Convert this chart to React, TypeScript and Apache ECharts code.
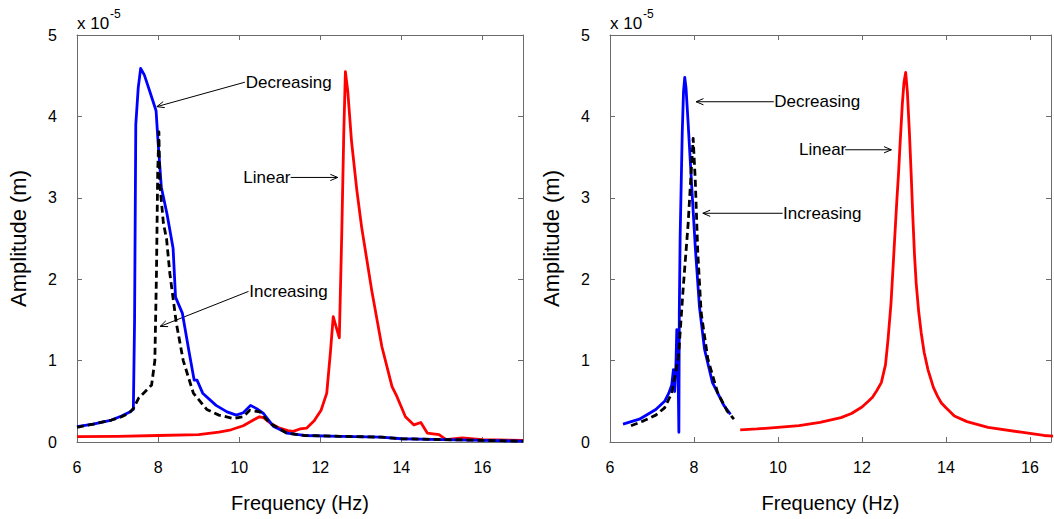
import React, { useEffect, useRef } from "react";
import * as echarts from "echarts";

const FONT = '"Liberation Sans", Arial, Helvetica, sans-serif';

// ---------- data (frequency Hz, amplitude x 1e-5 m) ----------
const yTicks = [0, 1, 2, 3, 4, 5];
const xTickLabels = ["6", "8", "10", "12", "14", "16"];

const leftDecreasing: [number, number][] = [
  [6.0, 0.19], [6.4, 0.22], [6.85, 0.27], [7.1, 0.32], [7.3, 0.37], [7.39, 0.4],
  [7.42, 1.5], [7.45, 3.9], [7.51, 4.35], [7.57, 4.59], [7.66, 4.51], [7.8, 4.3],
  [7.95, 4.07], [8.0, 3.68], [8.08, 3.13], [8.22, 2.8], [8.37, 2.38], [8.43, 1.78],
  [8.6, 1.58], [8.77, 1.09], [8.89, 0.76], [8.96, 0.76], [9.1, 0.6], [9.43, 0.45],
  [9.7, 0.37], [9.93, 0.33], [10.1, 0.36], [10.28, 0.45], [10.43, 0.41], [10.6, 0.35],
  [10.85, 0.19], [11.18, 0.11], [11.6, 0.08], [12.5, 0.07], [13.5, 0.06], [14.0, 0.04],
  [15.0, 0.03], [16.0, 0.02], [17.0, 0.01],
];

const leftIncreasing: [number, number][] = [
  [6.0, 0.18], [6.4, 0.22], [6.85, 0.27], [7.1, 0.31], [7.3, 0.36], [7.4, 0.42],
  [7.52, 0.54], [7.72, 0.64], [7.84, 0.7], [7.92, 1.0], [7.96, 2.07], [7.99, 3.3],
  [8.02, 3.81], [8.04, 3.19], [8.13, 2.69], [8.21, 2.49], [8.29, 2.07], [8.45, 1.46],
  [8.62, 1.0], [8.87, 0.6], [9.2, 0.4], [9.5, 0.33], [9.85, 0.29], [10.1, 0.31],
  [10.26, 0.39], [10.51, 0.37], [10.76, 0.23], [11.17, 0.11], [11.6, 0.08], [12.5, 0.07],
  [13.5, 0.06], [14.0, 0.04], [15.0, 0.03], [16.0, 0.02], [17.0, 0.01],
];

const leftLinear: [number, number][] = [
  [6.0, 0.065], [7.0, 0.07], [8.0, 0.08], [9.0, 0.09], [9.5, 0.12], [9.8, 0.15],
  [10.1, 0.2], [10.35, 0.27], [10.5, 0.31], [10.6, 0.3], [10.8, 0.22], [11.0, 0.17],
  [11.2, 0.14], [11.33, 0.13], [11.5, 0.16], [11.66, 0.17], [11.85, 0.26], [12.02, 0.39],
  [12.16, 0.6], [12.25, 1.1], [12.32, 1.54], [12.4, 1.4], [12.47, 1.28], [12.53, 2.56],
  [12.58, 3.8], [12.62, 4.55], [12.68, 4.3], [12.77, 3.7], [12.9, 3.1], [13.02, 2.64],
  [13.27, 1.86], [13.52, 1.17], [13.77, 0.68], [13.89, 0.56], [14.1, 0.31], [14.31, 0.21],
  [14.48, 0.24], [14.64, 0.11], [14.93, 0.09], [15.1, 0.03], [15.5, 0.05], [16.0, 0.03],
  [17.0, 0.02],
];

const rightDecreasing: [number, number][] = [
  [6.31, 0.22], [6.7, 0.28], [7.09, 0.4], [7.3, 0.5], [7.4, 0.6], [7.47, 0.7],
  [7.51, 0.89], [7.54, 0.62], [7.57, 0.95], [7.59, 1.38], [7.62, 0.9], [7.64, 0.12],
  [7.65, 1.6], [7.67, 2.52], [7.72, 3.8], [7.75, 4.3], [7.78, 4.48], [7.81, 4.35],
  [7.86, 3.92], [7.95, 3.1], [8.03, 2.4], [8.13, 1.66], [8.25, 1.14], [8.44, 0.73],
  [8.71, 0.45], [8.87, 0.34],
];

const rightIncreasing: [number, number][] = [
  [6.5, 0.2], [6.8, 0.26], [7.09, 0.33], [7.3, 0.42], [7.47, 0.6], [7.63, 1.05],
  [7.74, 1.87], [7.86, 2.68], [7.94, 3.38], [7.98, 3.73], [8.03, 3.22], [8.09, 2.33],
  [8.17, 1.59], [8.33, 1.02], [8.56, 0.61], [8.79, 0.38], [8.95, 0.28],
];

const rightLinear: [number, number][] = [
  [9.1, 0.15], [9.5, 0.16], [10.0, 0.18], [10.5, 0.2], [11.0, 0.24], [11.5, 0.3],
  [11.75, 0.35], [12.0, 0.43], [12.15, 0.5], [12.25, 0.55], [12.35, 0.63], [12.46, 0.73],
  [12.56, 0.95], [12.62, 1.26], [12.69, 1.7], [12.74, 2.15], [12.8, 2.7], [12.83, 2.97],
  [12.87, 3.3], [12.9, 3.6], [12.96, 4.15], [13.0, 4.42], [13.04, 4.54], [13.08, 4.3],
  [13.13, 3.79], [13.17, 3.3], [13.21, 2.77], [13.25, 2.3], [13.29, 1.95], [13.35, 1.6],
  [13.41, 1.34], [13.48, 1.1], [13.57, 0.89], [13.7, 0.67], [13.8, 0.56], [13.89, 0.48],
  [14.0, 0.42], [14.2, 0.32], [14.5, 0.25], [15.0, 0.18], [15.79, 0.12], [16.33, 0.08],
  [16.6, 0.07],
];

// annotation anchors in data coordinates: [grid, text, textLeftF, textA, arrowFromF, arrowToF, arrowToA]
const annotations: [number, string, number, number, number, number, number][] = [
  [0, "Decreasing", 10.16, 4.42, 10.14, 7.97, 4.12],
  [0, "Linear", 10.1, 3.25, 11.27, 12.43, 3.25],
  [0, "Increasing", 10.25, 1.85, 10.23, 8.05, 1.42],
  [1, "Decreasing", 9.91, 4.18, 9.9, 8.05, 4.18],
  [1, "Linear", 10.5, 3.59, 11.6, 12.7, 3.59],
  [1, "Increasing", 10.12, 2.81, 10.11, 8.21, 2.81],
];

const AXIS_COLOR = "#6b6b6b";

function xAxis(grid: number, max: number, bottom: boolean) {
  return {
    type: "value",
    gridIndex: grid,
    position: bottom ? "bottom" : "top",
    min: 6,
    max,
    interval: 2,
    axisLine: { show: true, onZero: false, lineStyle: { color: AXIS_COLOR, width: 1 } },
    axisTick: { show: true, inside: true, length: 5, lineStyle: { color: AXIS_COLOR, width: 1 } },
    splitLine: { show: false },
    axisLabel: bottom
      ? {
          show: true,
          margin: 17,
          color: "#000",
          fontSize: 16,
          fontFamily: FONT,
          formatter: (v: number) => (xTickLabels.includes(String(v)) ? String(v) : ""),
        }
      : { show: false },
    name: bottom ? "Frequency (Hz)" : "",
    nameLocation: "middle",
    nameGap: 51,
    nameTextStyle: { color: "#000", fontSize: 20, fontFamily: FONT },
  };
}

function yAxis(grid: number, left: boolean) {
  return {
    type: "value",
    gridIndex: grid,
    position: left ? "left" : "right",
    min: yTicks[0],
    max: yTicks[yTicks.length - 1],
    interval: 1,
    axisLine: { show: true, onZero: false, lineStyle: { color: AXIS_COLOR, width: 1 } },
    axisTick: { show: true, inside: true, length: 5, lineStyle: { color: AXIS_COLOR, width: 1 } },
    splitLine: { show: false },
    axisLabel: left
      ? { show: true, margin: 20, color: "#000", fontSize: 16, fontFamily: FONT }
      : { show: false },
    name: left ? "Amplitude (m)" : "",
    nameLocation: "middle",
    nameRotate: 90,
    nameGap: 48,
    nameTextStyle: { color: "#000", fontSize: 22, fontFamily: FONT },
  };
}

function line(data: [number, number][], axis: number, color: string, dashed: boolean) {
  return {
    type: "line",
    xAxisIndex: axis,
    yAxisIndex: axis,
    data,
    showSymbol: false,
    symbol: "none",
    smooth: false,
    silent: true,
    lineStyle: { color, width: 2.8, type: dashed ? [7, 4] : "solid", join: "round" },
  };
}

export default function App() {
  const ref = useRef<HTMLDivElement>(null);
  useEffect(() => {
    if (!ref.current) return;
    const chart = echarts.init(ref.current, null, { renderer: "svg" });
    chart.setOption({
      animation: false,
      backgroundColor: "#ffffff",
      grid: [
        { left: 77, top: 35, width: 446, height: 407, containLabel: false },
        { left: 610, top: 35, width: 450, height: 407, containLabel: false },
      ],
      xAxis: [xAxis(0, 17, true), xAxis(0, 17, false), xAxis(1, 16.5, true), xAxis(1, 16.5, false)],
      yAxis: [yAxis(0, true), yAxis(0, false), yAxis(1, true), yAxis(1, false)],
      series: [
        line(leftLinear, 0, "#ff0000", false),
        line(leftDecreasing, 0, "#0000ff", false),
        line(leftIncreasing, 0, "#000000", true),
        line(rightLinear, 2, "#ff0000", false),
        line(rightDecreasing, 2, "#0000ff", false),
        line(rightIncreasing, 2, "#000000", true),
      ],
    });

    const px = (g: number, f: number, a: number) =>
      chart.convertToPixel({ xAxisIndex: g * 2, yAxisIndex: g * 2 }, [f, a]) as number[];

    const elements: any[] = [];
    annotations.forEach(([g, text, tf, ta, af, bf, ba]) => {
      const t = px(g, tf, ta);
      const s = px(g, af, ta);
      const e = px(g, bf, ba);
      elements.push({
        type: "text",
        x: t[0],
        y: t[1],
        style: { text, fill: "#000", fontSize: 17, fontFamily: FONT, align: "left", verticalAlign: "middle" },
      });
      elements.push({
        type: "line",
        shape: { x1: s[0], y1: s[1], x2: e[0], y2: e[1] },
        style: { stroke: "#000", lineWidth: 1 },
      });
      const ang = Math.atan2(s[1] - e[1], s[0] - e[0]);
      const hl = 8;
      const spread = 0.4;
      elements.push({
        type: "polyline",
        shape: {
          points: [
            [e[0] + hl * Math.cos(ang + spread), e[1] + hl * Math.sin(ang + spread)],
            [e[0], e[1]],
            [e[0] + hl * Math.cos(ang - spread), e[1] + hl * Math.sin(ang - spread)],
          ],
        },
        style: { stroke: "#000", lineWidth: 1, fill: "none" },
      });
    });

    // exponent labels
    [77, 610].forEach((x0) => {
      elements.push({
        type: "text",
        x: x0,
        y: 23,
        style: { text: "x 10", fill: "#000", fontSize: 17, fontFamily: FONT, align: "left", verticalAlign: "middle" },
      });
      elements.push({
        type: "text",
        x: x0 + 33,
        y: 14,
        style: { text: "-5", fill: "#000", fontSize: 12, fontFamily: FONT, align: "left", verticalAlign: "middle" },
      });
    });

    chart.setOption({ graphic: elements });
    return () => chart.dispose();
  }, []);

  return (
    <div
      ref={ref}
      style={{ position: "fixed", left: 0, top: 0, width: 1054, height: 519, background: "#fff" }}
    />
  );
}
